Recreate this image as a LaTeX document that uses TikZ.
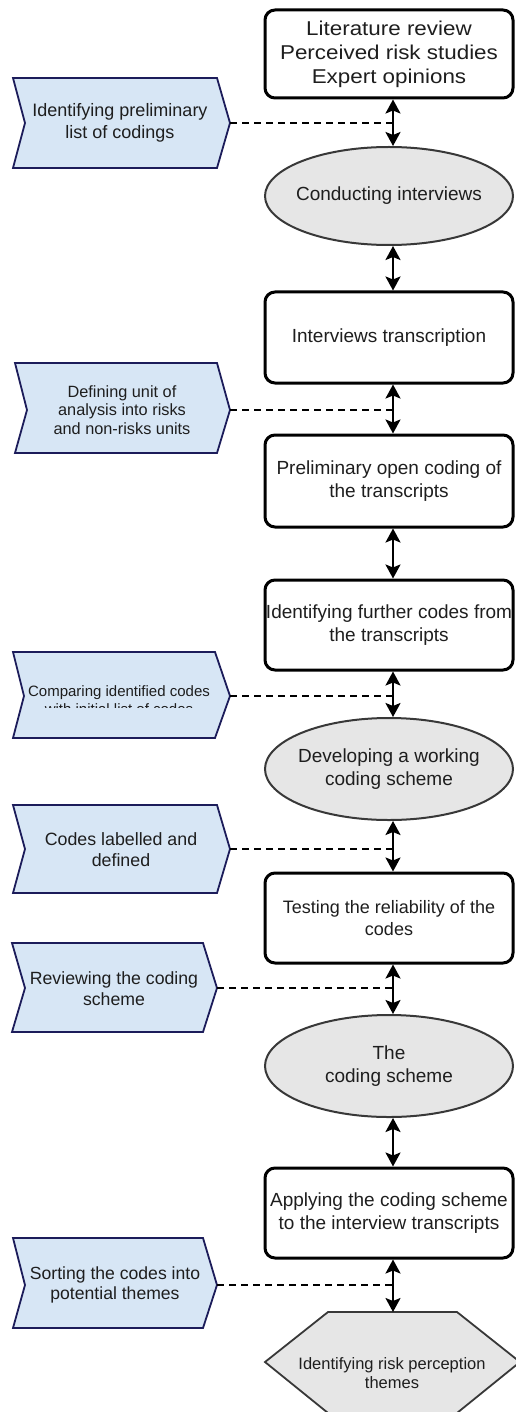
\documentclass[tikz,border=0pt]{standalone}
\usepackage{fontspec}
\setmainfont{Liberation Sans}
\usetikzlibrary{arrows.meta,shapes.geometric,calc}
\definecolor{txt}{HTML}{1E1E1E}
\definecolor{chevfill}{HTML}{D7E6F5}
\definecolor{chevdraw}{HTML}{1C1C5A}
\definecolor{ellfill}{HTML}{E6E6E6}
\definecolor{elldraw}{HTML}{383838}
\newcommand{\mainsz}{\fontsize{19}{23}\selectfont}
\begin{document}
\begin{tikzpicture}[x=1pt,y=-1pt,
  procbox/.style={draw=black, line width=3pt, rounded corners=10pt, minimum width=248pt, inner sep=0pt, align=center, text=txt, font=\mainsz},
  ellnode/.style={ellipse, draw=elldraw, fill=ellfill, line width=2pt, minimum width=248pt, inner sep=0pt},
  elltext/.style={align=center, text=txt, font=\mainsz, inner sep=0pt},
  chev/.style={draw=chevdraw, fill=chevfill, line width=1.8pt, line join=miter},
  hexst/.style={draw=elldraw, fill=ellfill, line width=1.8pt, line join=miter},
  chevtext/.style={align=center, text=txt, inner sep=0pt},
  dbl/.style={line width=2.2pt, {Stealth[length=14pt,width=15pt,inset=3pt]}-{Stealth[length=14pt,width=15pt,inset=3pt]}},
  dashline/.style={line width=1.8pt, dash pattern=on 7pt off 5pt}]
\useasboundingbox (0,0) rectangle (515,1412);
\coordinate (ax) at (393,0);

% main column
\node[procbox, minimum height=88pt, font={\fontsize{20}{24}\selectfont\addfontfeature{FakeStretch=1.12}}] (b1) at (389,54) {Literature review\\Perceived risk studies\\Expert opinions};
\node[ellnode, minimum height=98pt] (e1) at (389,196) {};
\node[elltext] (e1t) at (e1.center) {Conducting interviews};
\node[procbox, minimum height=91pt] (b2) at (389,337.5) {Interviews transcription};
\node[procbox, minimum height=92pt] (b3) at (389,481) {Preliminary open coding of\\the transcripts};
\node[procbox, minimum height=90pt] (b4) at (389,625) {Identifying further codes from\\the transcripts};
\node[ellnode, minimum height=102pt] (e2) at (389,769) {};
\node[elltext] (e2t) at (e2.center) {Developing a working\\coding scheme};
\node[procbox, minimum height=90pt, font={\fontsize{18}{22}\selectfont}] (b5) at (389,918) {Testing the reliability of the\\codes};
\node[ellnode, minimum height=102pt] (e3) at (389,1066) {};
\node[elltext] (e3t) at (e3.center) {The\\coding scheme};
\node[procbox, minimum height=90pt] (b6) at (389,1213) {Applying the coding scheme\\to the interview transcripts};
\draw[hexst] (265,1362) -- (328,1312) -- (457,1312) -- (520,1362) -- (457,1413) -- (328,1413) -- cycle;
\coordinate (hextop) at (393,1312);
\node[chevtext, font={\fontsize{16.5}{19}\selectfont}] (hex) at (392,1373) {Identifying risk perception\\themes};

% chevrons
\draw[chev] (13,78) -- (217,78) -- (230,123) -- (217,168) -- (13,168) -- (25,123) -- cycle;
\coordinate (c1tip) at (230,123);
\node[chevtext, font={\fontsize{18}{22}\selectfont}] (c1) at (120,123) {Identifying preliminary\\list of codings};

\draw[chev] (15,363) -- (217,363) -- (230,410) -- (217,453) -- (15,453) -- (27,410) -- cycle;
\coordinate (c2tip) at (230,410);
\node[chevtext, font={\fontsize{16.3}{18.3}\selectfont}] (c2) at (122,410) {Defining unit of\\analysis into risks\\and non-risks units};

\draw[chev] (13,652) -- (215,652) -- (230,696) -- (215,738) -- (13,738) -- (24,696) -- cycle;
\coordinate (c3tip) at (230,696);
\begin{scope}
\clip (0,640) rectangle (240,707.5);
\node[chevtext, font={\fontsize{15}{18}\selectfont}] (c3) at (119,700) {Comparing identified codes\\with initial list of codes};
\end{scope}

\draw[chev] (13,805) -- (217,805) -- (230,849) -- (217,893) -- (13,893) -- (25,849) -- cycle;
\coordinate (c4tip) at (230,849);
\node[chevtext, font={\fontsize{17.8}{21}\selectfont}] (c4) at (121,850) {Codes labelled and\\defined};

\draw[chev] (12,943) -- (203,943) -- (217,988) -- (203,1032) -- (12,1032) -- (25,988) -- cycle;
\coordinate (c5tip) at (217,988);
\node[chevtext, font={\fontsize{17.7}{21}\selectfont}] (c5) at (114,989) {Reviewing the coding\\scheme};

\draw[chev] (13,1238) -- (203,1238) -- (217,1285) -- (203,1328) -- (13,1328) -- (25,1285) -- cycle;
\coordinate (c6tip) at (217,1285);
\node[chevtext, font={\fontsize{17.6}{20.5}\selectfont}] (c6) at (115,1285) {Sorting the codes into\\potential themes};

% dashed links
\foreach \c in {c1tip,c2tip,c3tip,c4tip,c5tip,c6tip}
  \draw[dashline] (\c) -- (\c -| ax);

% arrows
\draw[dbl] (b1.south -| ax) -- (e1.north -| ax);
\draw[dbl] (e1.south -| ax) -- (b2.north -| ax);
\draw[dbl] (b2.south -| ax) -- (b3.north -| ax);
\draw[dbl] (b3.south -| ax) -- (b4.north -| ax);
\draw[dbl] (b4.south -| ax) -- (e2.north -| ax);
\draw[dbl] (e2.south -| ax) -- (b5.north -| ax);
\draw[dbl] (b5.south -| ax) -- (e3.north -| ax);
\draw[dbl] (e3.south -| ax) -- (b6.north -| ax);
\draw[dbl] (b6.south -| ax) -- (hextop);
\end{tikzpicture}
\end{document}
